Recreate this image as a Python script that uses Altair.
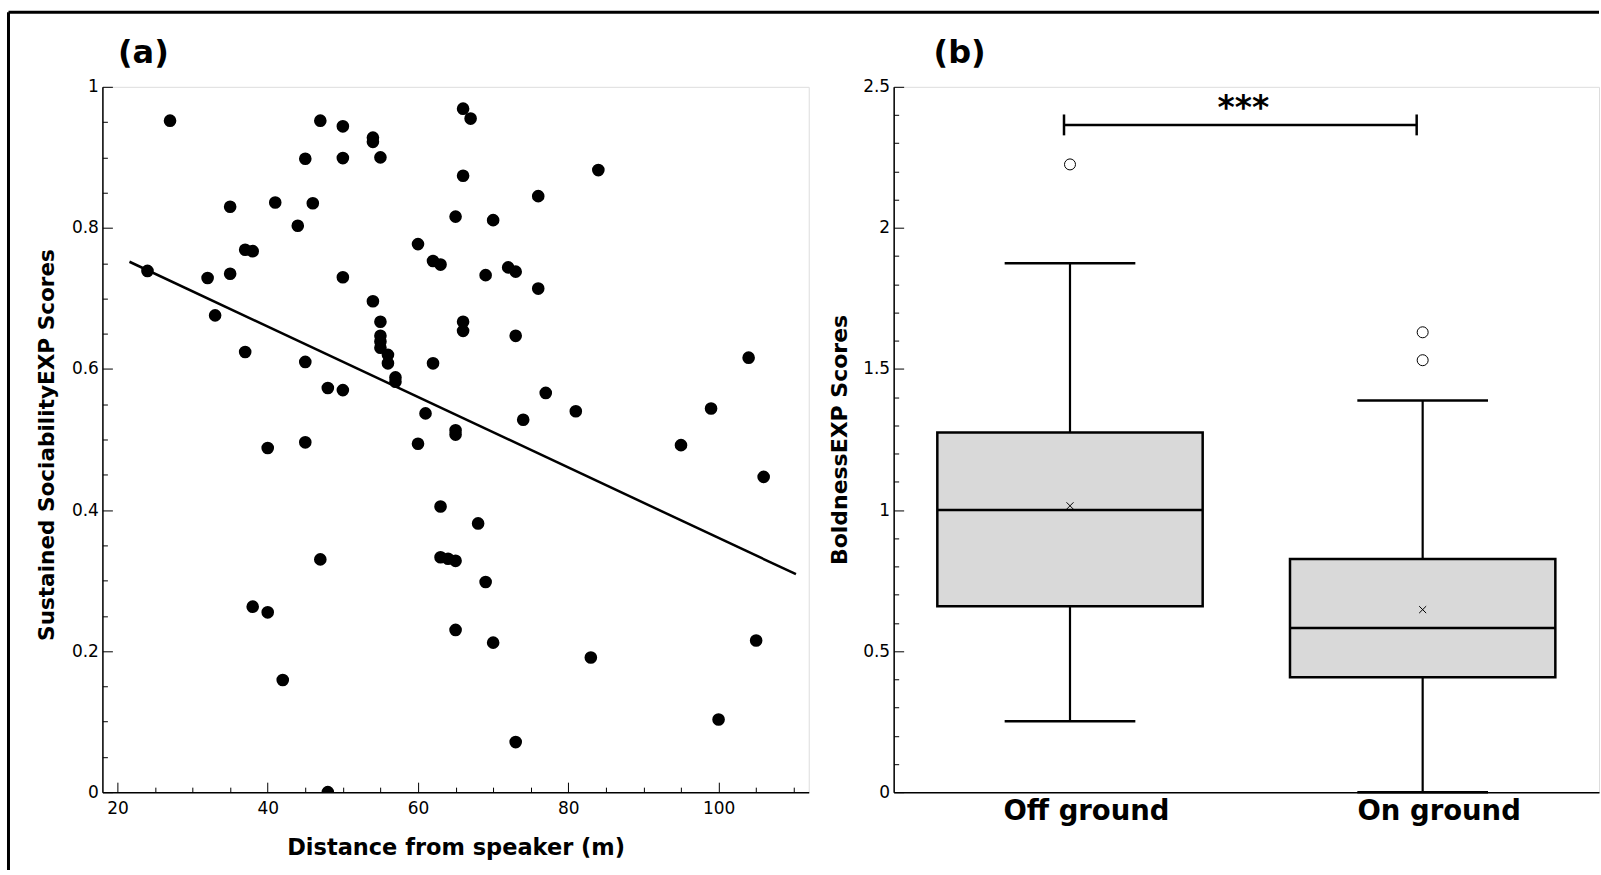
import altair as alt
import pandas as pd

# ---------------- Panel (a): scatter ----------------
dist = [27, 47, 50, 54, 54, 45, 50, 55, 66, 67, 66, 84, 76, 65, 70, 35, 41, 46, 44,
        37, 38, 60, 62, 63, 69, 72, 73, 76, 24, 32, 35, 50, 54, 33, 55, 55, 55, 55,
        56, 56, 37, 45, 62, 66, 66, 73, 104, 57, 57, 48, 50, 61, 65, 65, 60, 45, 40,
        63, 63, 64, 65, 47, 38, 40, 65, 42, 48, 77, 74, 81, 99, 95, 106, 68, 69, 70,
        83, 105, 100, 73]
score = [0.952, 0.952, 0.944, 0.928, 0.922, 0.898, 0.899, 0.900, 0.969, 0.955, 0.874,
         0.882, 0.845, 0.816, 0.811, 0.830, 0.836, 0.835, 0.803, 0.769, 0.767, 0.777,
         0.753, 0.748, 0.733, 0.744, 0.738, 0.714, 0.739, 0.729, 0.735, 0.730, 0.696,
         0.676, 0.667, 0.647, 0.639, 0.630, 0.620, 0.608, 0.624, 0.610, 0.608, 0.667,
         0.654, 0.647, 0.616, 0.588, 0.582, 0.573, 0.570, 0.537, 0.513, 0.507, 0.494,
         0.496, 0.488, 0.405, 0.333, 0.331, 0.328, 0.330, 0.263, 0.255, 0.230, 0.159,
         0.000, 0.566, 0.528, 0.540, 0.544, 0.492, 0.447, 0.381, 0.298, 0.212, 0.191,
         0.215, 0.103, 0.071]
fit_dist = [21.6, 110.3]
fit_score = [0.752, 0.309]

a_x_labels = [20, 40, 60, 80, 100]
a_x_ticks = [20, 25, 30, 35, 40, 45, 50, 55, 60, 65, 70, 75, 80, 85, 90, 95, 100, 105, 110]
a_y_labels = [0, 0.2, 0.4, 0.6, 0.8, 1]
a_y_ticks = [0, 0.05, 0.1, 0.15, 0.2, 0.25, 0.3, 0.35, 0.4, 0.45, 0.5, 0.55, 0.6, 0.65,
             0.7, 0.75, 0.8, 0.85, 0.9, 0.95, 1]

# ---------------- Panel (b): box plot summary ----------------
groups = ["Off ground", "On ground"]
q1 = [0.659, 0.407]
median = [1.000, 0.582]
q3 = [1.275, 0.826]
whisker_lo = [0.251, 0.000]
whisker_hi = [1.875, 1.388]
means = [1.015, 0.647]
outlier_group = ["Off ground", "On ground", "On ground"]
outlier_value = [2.225, 1.630, 1.531]
b_y_labels = [0, 0.5, 1, 1.5, 2, 2.5]
b_y_ticks = [0, 0.1, 0.2, 0.3, 0.4, 0.5, 0.6, 0.7, 0.8, 0.9, 1, 1.1, 1.2, 1.3, 1.4, 1.5,
             1.6, 1.7, 1.8, 1.9, 2, 2.1, 2.2, 2.3, 2.4, 2.5]
sig_from, sig_to = "Off ground", "On ground"
sig_y = 2.365
sig_cap = [2.328, 2.402]
sig_text = "***"
sig_text_y = 2.42

FONT = "DejaVu Sans"
WA, HA = 707, 706
WB, HB = 706, 706

# ---------------- build panel (a) ----------------
scat_df = pd.DataFrame({"dist": dist, "score": score})
fit_df = pd.DataFrame({"dist": fit_dist, "score": fit_score})
xs_a = alt.Scale(domain=[18, 112], nice=False, zero=False, padding=0)
ys_a = alt.Scale(domain=[0, 1], nice=False, zero=False, padding=0)

pts = alt.Chart(scat_df).mark_circle(size=160, color="black", opacity=1, clip=True).encode(
    x=alt.X("dist:Q", scale=xs_a, axis=alt.Axis(
        orient="bottom", values=a_x_labels, ticks=False, tickSize=0, grid=False,
        domainColor="black", domainWidth=1.5, labelFont=FONT, labelFontSize=17,
        labelColor="black", labelPadding=8, labelFlush=False, labelOverlap=False,
        title="Distance from speaker (m)", titleFont=FONT, titleFontSize=22.5,
        titleFontWeight="bold", titleColor="black", titleX=WA / 2, titleY=55,
        titleBaseline="middle", titleAlign="center")),
    y=alt.Y("score:Q", scale=ys_a, axis=alt.Axis(
        orient="left", values=a_y_labels, format="~g", ticks=False, tickSize=0, grid=False,
        domainColor="black", domainWidth=1.5, labelFont=FONT, labelFontSize=17,
        labelColor="black", labelPadding=4, labelFlush=False, labelOverlap=False,
        title="Sustained SociabilityEXP Scores", titleFont=FONT, titleFontSize=21.6,
        titleFontWeight="bold", titleColor="black", titleAngle=270, titleX=-55,
        titleY=358, titleBaseline="middle", titleAlign="center")),
)

fit = alt.Chart(fit_df).mark_line(color="black", strokeWidth=2.5).encode(
    x=alt.X("dist:Q", scale=xs_a, axis=alt.Axis(
        orient="top", offset=-HA, values=a_x_ticks, labels=False, domain=False,
        grid=False, ticks=True, tickColor="black", tickWidth=1, title=None,
        tickSize={"condition": {"test": "datum.value % 20 === 0", "value": 10}, "value": 5})),
    y=alt.Y("score:Q", scale=ys_a, axis=alt.Axis(
        orient="right", offset=-WA, values=a_y_ticks, labels=False, domain=False,
        grid=False, ticks=True, tickColor="black", tickWidth=1, title=None,
        tickSize={"condition": {"test": "abs(datum.value*5 - round(datum.value*5)) < 0.001",
                                "value": 10}, "value": 5})),
)

one = pd.DataFrame({"k": [0]})
frame_top = alt.Chart(one).mark_rule(color="black", strokeWidth=3).encode(
    x=alt.value(-94), x2=alt.value(1498), y=alt.value(-74.7))
frame_left = alt.Chart(one).mark_rule(color="black", strokeWidth=3).encode(
    x=alt.value(-94), y=alt.value(-74.7), y2=alt.value(784))
lab_a = alt.Chart(pd.DataFrame({"t": ["(a)"]})).mark_text(
    font=FONT, fontSize=32, fontWeight="bold", color="black", align="center",
    baseline="middle").encode(text="t:N", x=alt.value(41), y=alt.value(-34))

panel_a = alt.layer(pts, fit, frame_top, frame_left, lab_a).resolve_axis(
    x="independent", y="independent").properties(width=WA, height=HA)

# ---------------- build panel (b) ----------------
pos = {g: i + 1 for i, g in enumerate(groups)}
box_df = pd.DataFrame({"group": groups, "pos": [pos[g] for g in groups], "q1": q1,
                       "median": median, "q3": q3, "lo": whisker_lo, "hi": whisker_hi,
                       "mean": means})
out_df = pd.DataFrame({"group": outlier_group, "pos": [pos[g] for g in outlier_group],
                       "value": outlier_value})
sig_df = pd.DataFrame({"a": [pos[sig_from]], "b": [pos[sig_to]], "y": [sig_y],
                       "mid": [(pos[sig_from] + pos[sig_to]) / 2], "ty": [sig_text_y],
                       "t": [sig_text]})
sig_caps_df = pd.DataFrame({"p": [pos[sig_from], pos[sig_to]],
                            "c1": [sig_cap[0]] * 2, "c2": [sig_cap[1]] * 2})

xs_b = alt.Scale(domain=[0.5, 2.5], nice=False, zero=False, padding=0)
ys_b = alt.Scale(domain=[0, 2.5], nice=False, zero=False, padding=0)
label_expr = "datum.value == 1 ? '" + groups[0] + "' : '" + groups[1] + "'"
x_axis_b = alt.Axis(orient="bottom", values=[1, 2], labelExpr=label_expr, ticks=False,
                    tickSize=0, grid=False, domainColor="black", domainWidth=1.5,
                    labelFont=FONT, labelFontSize=27.5, labelFontWeight="bold",
                    labelColor="black", labelPadding=5, labelOffset=16, labelAngle=0,
                    labelFlush=False, labelOverlap=False, title=None)


def xb(field):
    return alt.X(field, scale=xs_b, axis=x_axis_b)


def yb(field, axis=None):
    return alt.Y(field, scale=ys_b, axis=axis)


y_lab_axis = alt.Axis(orient="left", values=b_y_labels, format="~g", ticks=False,
                      tickSize=0, grid=False, domainColor="black", domainWidth=1.5,
                      labelFont=FONT, labelFontSize=17, labelColor="black", labelPadding=4,
                      labelFlush=False, labelOverlap=False, title="BoldnessEXP Scores",
                      titleFont=FONT, titleFontSize=22, titleFontWeight="bold",
                      titleColor="black", titleAngle=270, titleX=-54, titleY=353,
                      titleBaseline="middle", titleAlign="center")
y_tick_axis = alt.Axis(orient="right", offset=-WB, values=b_y_ticks, labels=False,
                       domain=False, grid=False, ticks=True, tickColor="black",
                       tickWidth=1, title=None,
                       tickSize={"condition": {"test": "abs(datum.value*2 - round(datum.value*2)) < 0.001",
                                               "value": 10}, "value": 5})

boxes = alt.Chart(box_df).mark_bar(size=265.6, fill="#d9d9d9", stroke="black",
                                   strokeWidth=2.5).encode(
    x=xb("pos:Q"), y=yb("q1:Q", y_lab_axis), y2="q3:Q")
whisk_hi = alt.Chart(box_df).mark_rule(color="black", strokeWidth=2.2).encode(
    x=xb("pos:Q"), y=yb("q3:Q", y_tick_axis), y2="hi:Q")
whisk_lo = alt.Chart(box_df).mark_rule(color="black", strokeWidth=2.2).encode(
    x=xb("pos:Q"), y=yb("lo:Q"), y2="q1:Q")
cap_hi = alt.Chart(box_df).mark_tick(orient="horizontal", size=130.8, thickness=2.5,
                                     color="black", opacity=1).encode(
    x=xb("pos:Q"), y=yb("hi:Q"))
cap_lo = alt.Chart(box_df).mark_tick(orient="horizontal", size=130.8, thickness=2.5,
                                     color="black", opacity=1).encode(
    x=xb("pos:Q"), y=yb("lo:Q"))
med = alt.Chart(box_df).mark_tick(orient="horizontal", size=265.6, thickness=2.5,
                                  color="black", opacity=1).encode(
    x=xb("pos:Q"), y=yb("median:Q"))
mean_pts = alt.Chart(box_df).mark_point(shape="M-1,-1L1,1M-1,1L1,-1", size=49,
                                        stroke="black", strokeWidth=1, filled=False,
                                        opacity=1).encode(
    x=xb("pos:Q"), y=yb("mean:Q"))
outs = alt.Chart(out_df).mark_point(shape="circle", size=121, filled=False, stroke="black",
                                    strokeWidth=1, opacity=1).encode(
    x=xb("pos:Q"), y=yb("value:Q"))
sig_line = alt.Chart(sig_df).mark_rule(color="black", strokeWidth=2.5, xOffset=-6,
                                       x2Offset=-6).encode(
    x=xb("a:Q"), x2="b:Q", y=yb("y:Q"))
sig_caps = alt.Chart(sig_caps_df).mark_rule(color="black", strokeWidth=2.5,
                                            xOffset=-6).encode(
    x=xb("p:Q"), y=yb("c1:Q"), y2="c2:Q")
sig_lab = alt.Chart(sig_df).mark_text(font=FONT, fontSize=33, fontWeight="bold",
                                      color="black", align="center", baseline="middle",
                                      dx=-3).encode(
    x=xb("mid:Q"), y=yb("ty:Q"), text="t:N")
lab_b = alt.Chart(pd.DataFrame({"t": ["(b)"]})).mark_text(
    font=FONT, fontSize=32, fontWeight="bold", color="black", align="center",
    baseline="middle").encode(text="t:N", x=alt.value(66), y=alt.value(-34))

panel_b = alt.layer(boxes, whisk_hi, whisk_lo, cap_hi, cap_lo, med, mean_pts, outs,
                    sig_line, sig_caps, sig_lab, lab_b).resolve_axis(
    y="independent").properties(width=WB, height=HB)

chart = alt.hconcat(panel_a, panel_b, spacing=85, bounds="flush").properties(
    padding={"left": 6.5, "top": 9.5, "right": 0, "bottom": 0},
    background="white",
).configure_view(stroke="#222222", strokeWidth=1.3).configure(font=FONT)

chart.save("out.html", embed_options={"renderer": "svg", "actions": False})
